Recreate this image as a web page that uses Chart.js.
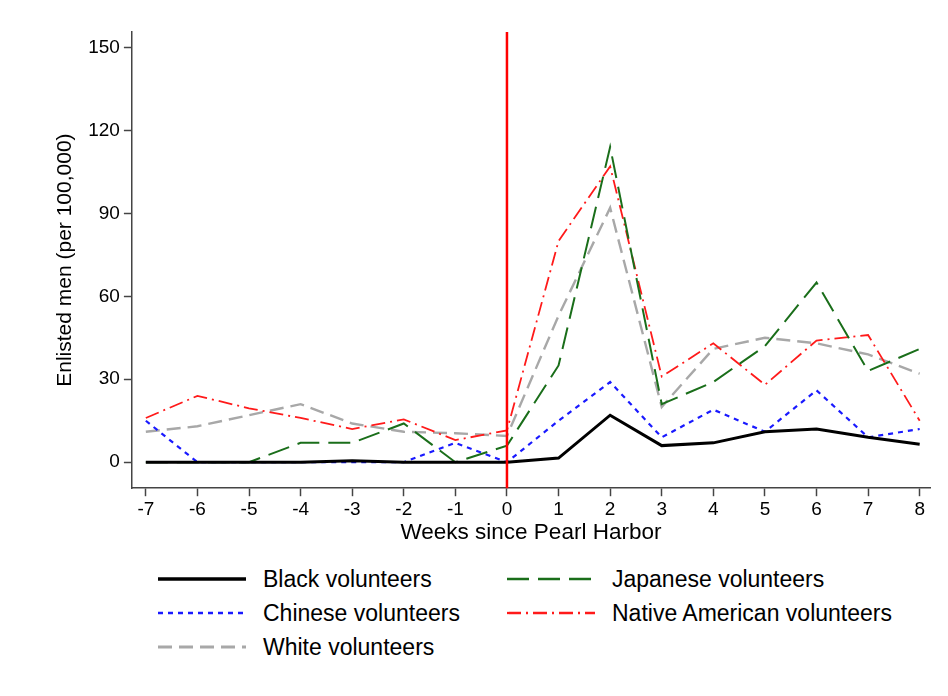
<!DOCTYPE html>
<html><head><meta charset="utf-8">
<script src="https://cdn.jsdelivr.net/npm/chart.js@4"></script>
<style>
body{margin:0;background:#fff;font-family:"Liberation Sans",Arial,sans-serif;}
#wrap{position:relative;width:948px;height:550px;}
#legend{position:absolute;top:562px;left:0;width:948px;font-size:23px;color:#000;}
.item{position:absolute;display:flex;align-items:center;height:34px;}
.item svg{margin-right:17px;}
</style></head>
<body>
<div id="wrap"><canvas id="c" width="948" height="550"></canvas></div>
<div id="legend"></div>
<script>
const weeks = [-7,-6,-5,-4,-3,-2,-1,0,1,2,3,4,5,6,7,8];
const black    = [0,0,0,0,0.5,0,0,0,1.5,17,6,7,11,12,9,6.5];
const chinese  = [15,0,0,0,0,0,7,0,15,29,9,19,11,26,9,12];
const japanese = [0,0,0,7,7,14,0,6,35,114,21,29,42,65,33,41];
const native   = [16,24,19.5,16,12,15.5,8,11.5,80,107,31,43,28,44,46,15];
const white    = [11,13,17,21,14,11,10.5,9.5,53,92,20,41,45,43,39,32];
const yTicks = [0,30,60,90,120,150];

const series = [
  {label:'Black volunteers', data:black, color:'#000000', dash:[], width:3, pos:[0,0]},
  {label:'Japanese volunteers', data:japanese, color:'#1a6e1a', dash:[22,9], width:2, pos:[1,0]},
  {label:'Chinese volunteers', data:chinese, color:'#1a1aff', dash:[5,5], width:2.2, pos:[0,1]},
  {label:'Native American volunteers', data:native, color:'#ff1a1a', dash:[14,5,2,5], width:1.8, pos:[1,1]},
  {label:'White volunteers', data:white, color:'#a8a8a8', dash:[14,7], width:2.4, pos:[0,2]}
];

const vline = {
  id:'vline',
  afterDatasetsDraw(chart){
    const {ctx, chartArea, scales} = chart;
    const x = scales.x.getPixelForValue(0);
    ctx.save();
    ctx.strokeStyle = '#ff0000'; ctx.lineWidth = 2.5;
    ctx.beginPath(); ctx.moveTo(x, chartArea.top); ctx.lineTo(x, chartArea.bottom); ctx.stroke();
    ctx.restore();
  }
};

const axisGrid = {display:true, drawOnChartArea:false, drawTicks:true, tickLength:8, tickColor:'#444', tickWidth:1.5};

new Chart(document.getElementById('c'), {
  type:'line',
  data:{datasets: series.map(s => ({
    label:s.label,
    data: weeks.map((w,i) => ({x:w, y:s.data[i]})),
    borderColor:s.color, borderDash:s.dash, borderWidth:s.width,
    pointRadius:0, tension:0, fill:false
  }))},
  options:{
    responsive:false, animation:false,
    layout:{padding:{top:32, right:18, left:49, bottom:0}},
    plugins:{legend:{display:false}, tooltip:{enabled:false}},
    scales:{
      x:{type:'linear', min:-7.27, max:8.2,
        afterBuildTicks: a => { a.ticks = weeks.map(v => ({value:v})); },
        grid:axisGrid,
        border:{color:'#444', width:1.5},
        ticks:{color:'#000', font:{size:19, family:'Liberation Sans'}, padding:2, maxRotation:0},
        title:{display:true, text:'Weeks since Pearl Harbor', color:'#000', font:{size:22.5, family:'Liberation Sans'}, padding:{top:-4}}
      },
      y:{min:-9.4, max:155.6,
        afterBuildTicks: a => { a.ticks = yTicks.map(v => ({value:v})); },
        grid:axisGrid,
        border:{color:'#444', width:1.5},
        ticks:{color:'#000', font:{size:19, family:'Liberation Sans'}, padding:4},
        title:{display:true, text:'Enlisted men (per 100,000)', color:'#000', font:{size:21, family:'Liberation Sans'}, padding:{bottom:6}}
      }
    }
  },
  plugins:[vline]
});

const leg = document.getElementById('legend');
series.forEach(s => {
  const d = document.createElement('div');
  d.className = 'item';
  d.style.left = (s.pos[0] ? 507 : 158) + 'px';
  d.style.top = (s.pos[1] * 34) + 'px';
  d.innerHTML = `<svg width="88" height="6"><line x1="0" y1="3" x2="88" y2="3" stroke="${s.color}" stroke-width="${s.width+0.5}" stroke-dasharray="${s.dash.join(' ')}"/></svg>${s.label}`;
  leg.appendChild(d);
});
</script>
</body></html>
